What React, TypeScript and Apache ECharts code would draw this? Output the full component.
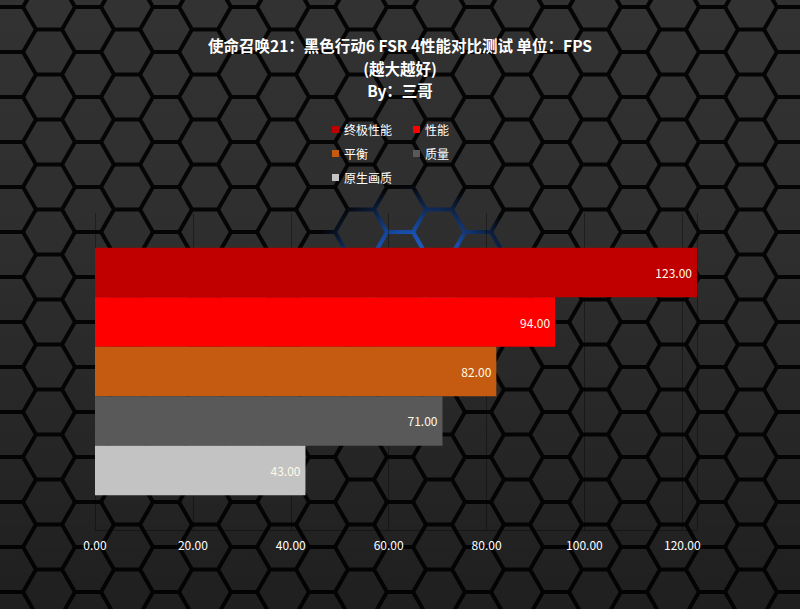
import { useEffect, useRef } from 'react';
import * as echarts from 'echarts';

const titleLines = ['使命召唤21：黑色行动6 FSR 4性能对比测试 单位：FPS', '(越大越好)', 'By：三哥'];
const seriesNames = ['终极性能', '性能', '平衡', '质量', '原生画质'];
const fpsValues = [123, 94, 82, 71, 43];
const barColors = ['#c00000', '#ff0000', '#c55a11', '#595959', '#c3c3c3'];
const categories = [''];

const FONT = '"Microsoft YaHei", "Noto Sans CJK SC", sans-serif';

// hexagon floor texture: faces drawn, gaps left transparent so the glow below shows through
function hexPattern() {
  const R = 26;
  const h = 22.5;
  const k = 0.91;
  const centers = [[0, 0], [78, 0], [0, 45], [78, 45], [39, 22.5]];
  const polys = centers.map(([cx, cy]) => {
    const pts = [
      [cx + R * k, cy],
      [cx + (R / 2) * k, cy + h * k],
      [cx - (R / 2) * k, cy + h * k],
      [cx - R * k, cy],
      [cx - (R / 2) * k, cy - h * k],
      [cx + (R / 2) * k, cy - h * k],
    ];
    return `<polygon points="${pts.map((p) => p.join(',')).join(' ')}" fill="#323233"/>`;
  });
  const svg = `<svg xmlns="http://www.w3.org/2000/svg" width="78" height="45">${polys.join('')}</svg>`;
  return `url("data:image/svg+xml,${encodeURIComponent(svg)}")`;
}

export default function App() {
  const chartRef = useRef<HTMLDivElement>(null);

  useEffect(() => {
    document.body.style.margin = '0';
    if (!chartRef.current) return;
    const chart = echarts.init(chartRef.current, undefined, { renderer: 'svg' });
    chart.setOption({
      animation: false,
      backgroundColor: 'transparent',
      textStyle: { fontFamily: FONT },
      title: {
        text: titleLines.join('\n'),
        left: 'center',
        top: 29,
        textStyle: { color: '#ffffff', fontSize: 15.5, fontWeight: 'bold', lineHeight: 22.5, fontFamily: FONT },
      },
      legend: {
        data: seriesNames,
        left: 327,
        top: 115,
        width: 160,
        orient: 'horizontal',
        icon: 'rect',
        itemWidth: 7,
        itemHeight: 7,
        itemGap: 5,
        formatter: '{a|{name}}',
        textStyle: {
          color: '#ffffff',
          fontSize: 12,
          lineHeight: 19,
          rich: { a: { width: 64, height: 19, fontSize: 12, lineHeight: 19, color: '#ffffff', fontFamily: FONT } },
        },
      },
      grid: { left: 95, right: 103, top: 213, bottom: 79 },
      xAxis: {
        type: 'value',
        min: 0,
        max: 123,
        interval: 20,
        axisLine: { show: true, lineStyle: { color: 'rgba(0,0,0,0.35)' } },
        axisTick: { show: false },
        axisLabel: {
          color: '#ffffff',
          fontSize: 12,
          showMaxLabel: false,
          formatter: (v: number) => v.toFixed(2),
        },
        splitLine: { show: true, lineStyle: { color: 'rgba(0,0,0,0.35)' } },
      },
      yAxis: {
        type: 'category',
        data: categories,
        inverse: true,
        axisLine: { show: false },
        axisTick: { show: false },
        axisLabel: { show: false },
      },
      series: seriesNames.map((name, i) => ({
        name,
        type: 'bar',
        data: [fpsValues[i]],
        barGap: '0%',
        barCategoryGap: '22%',
        itemStyle: { color: barColors[i] },
        label: {
          show: true,
          position: 'insideRight',
          color: '#fffbe6',
          fontSize: 12,
          formatter: (p: any) => Number(p.value).toFixed(2),
        },
      })),
    });
    return () => chart.dispose();
  }, []);

  return (
    <div
      style={{
        width: 800,
        height: 609,
        background: [
          'linear-gradient(to bottom, rgba(0,0,0,0) 0%, rgba(0,0,0,0.08) 40%, rgba(0,0,0,0.38) 100%)',
          `${hexPattern()} 49px 52px / 78px 45px repeat`,
          'radial-gradient(ellipse 110px 95px at 418px 280px, rgba(45,125,250,1) 0%, rgba(30,100,220,0.85) 50%, rgba(0,0,0,0) 100%)',
          '#050505',
        ].join(', '),
      }}
    >
      <div ref={chartRef} style={{ width: 800, height: 609 }} />
    </div>
  );
}
